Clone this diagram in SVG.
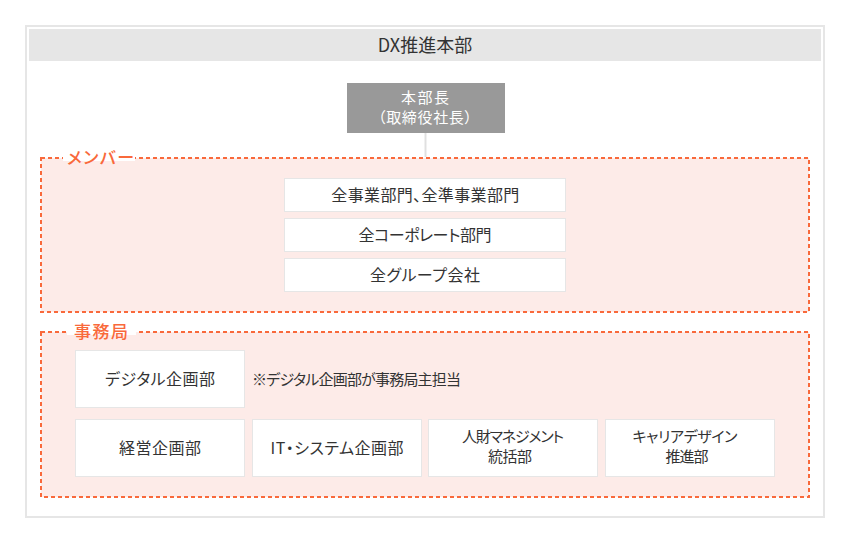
<svg xmlns="http://www.w3.org/2000/svg" width="850" height="543" viewBox="0 0 850 543">
<style>
text{font-family:"Noto Sans CJK JP","Noto Sans",sans-serif;font-feature-settings:"palt";fill:#333;text-anchor:middle;font-size:16px;font-weight:400}
.box{fill:#fff;stroke:#e6e6e6;stroke-width:1}
.grp{fill:#fdebe8;stroke:#f9693b;stroke-width:2;stroke-dasharray:4 3}
.lbl{fill:#f9693b;font-size:17px;font-weight:500;text-anchor:start}
.note{font-size:15px;text-anchor:start}
.two{font-size:15px}
.hd{font-size:18px;font-feature-settings:normal}
</style>
<rect width="850" height="543" fill="#fff"/>
<g id="frame">
<rect x="26" y="26" width="798" height="491" fill="#fff" stroke="#e6e6e6" stroke-width="2"/>
<rect x="29" y="29" width="792" height="32" fill="#e6e6e6"/>
<text class="hd" x="425" y="52">DX推進本部</text>
</g>
<g id="connectors">
<line x1="425.5" y1="133" x2="425.5" y2="157" stroke="#e0e0e0" stroke-width="2"/>
</g>
<g id="head">
<rect x="347" y="83" width="158" height="50" fill="#999"/>
<text class="two" x="425" y="103" style="fill:#fff" textLength="48">本部長</text>
<text class="two" x="425" y="123" style="fill:#fff" textLength="94">（取締役社長）</text>
</g>
<g id="members">
<rect class="grp" x="41" y="158" width="768" height="154"/>
<rect x="63" y="155" width="72" height="6" fill="#fff"/>
<text class="lbl" x="67" y="164" textLength="67">メンバー</text>
</g>
<g id="m1"><rect class="box" x="284.5" y="178.5" width="281" height="33"/><text x="425.3" y="201" textLength="188">全事業部門、全準事業部門</text></g>
<g id="m2"><rect class="box" x="284.5" y="218.5" width="281" height="33"/><text x="425" y="241" textLength="133">全コーポレート部門</text></g>
<g id="m3"><rect class="box" x="284.5" y="258.5" width="281" height="33"/><text x="425" y="281" textLength="110">全グループ会社</text></g>
<g id="office">
<rect class="grp" x="41" y="332" width="768" height="165"/>
<rect x="67" y="329" width="69" height="6" fill="#fff"/>
<text class="lbl" x="74" y="338" textLength="54">事務局</text>
</g>
<g id="o1"><rect class="box" x="75.5" y="350.5" width="169" height="57"/><text x="160" y="385" textLength="110">デジタル企画部</text></g>
<g id="note"><text class="note" x="252" y="385" textLength="209">※デジタル企画部が事務局主担当</text></g>
<g id="o2"><rect class="box" x="75.5" y="419.5" width="169" height="57"/><text x="160" y="454" textLength="82">経営企画部</text></g>
<g id="o3"><rect class="box" x="252.5" y="419.5" width="169" height="57"/><text x="337" y="454" textLength="133">IT・システム企画部</text></g>
<g id="o4"><rect class="box" x="428.5" y="419.5" width="169" height="57"/><text class="two" x="513" y="442" textLength="102">人財マネジメント</text><text class="two" x="510" y="462" textLength="44">統括部</text></g>
<g id="o5"><rect class="box" x="605.5" y="419.5" width="169" height="57"/><text class="two" x="685" y="442" textLength="105">キャリアデザイン</text><text class="two" x="687" y="462" textLength="43">推進部</text></g>
</svg>
